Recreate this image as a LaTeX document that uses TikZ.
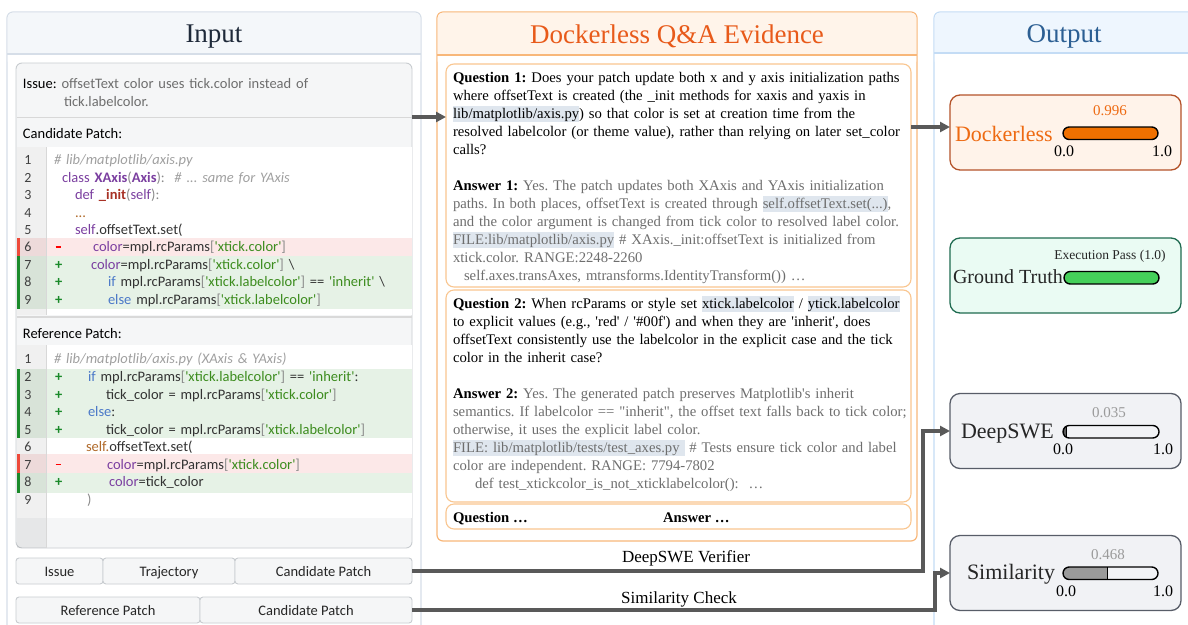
\documentclass[tikz,border=0pt]{standalone}
\usepackage{fontspec}
\usetikzlibrary{arrows.meta}
\newfontfamily\qafont{Liberation Serif}
\newfontfamily\codefont{Carlito}
\frenchspacing
\definecolor{inborder}{HTML}{D6DEE8}
\definecolor{inhead}{HTML}{F4F7FA}
\definecolor{intitle}{HTML}{1F2A3A}
\definecolor{boxborder}{HTML}{C8CCD0}
\definecolor{boxfill}{HTML}{F5F6F7}
\definecolor{redband}{HTML}{FCE8E8}
\definecolor{redbar}{HTML}{EE4A3A}
\definecolor{greenband}{HTML}{E6F2E6}
\definecolor{greenbar}{HTML}{1A8A2A}
\definecolor{kwpurple}{HTML}{7B3FA0}
\definecolor{kwblue}{HTML}{4A78C8}
\definecolor{strgreen}{HTML}{3C8C1E}
\definecolor{cmtgray}{HTML}{A0A0A0}
\definecolor{pungray}{HTML}{8A8A8A}
\definecolor{fnred}{HTML}{A83226}
\definecolor{selfbrown}{HTML}{B06A2A}
\definecolor{codetext}{HTML}{333333}
\definecolor{evborder}{HTML}{F8B77A}
\definecolor{evhead}{HTML}{FFF4EA}
\definecolor{evtitle}{HTML}{E85A1A}
\definecolor{qborder}{HTML}{F9C690}
\definecolor{ansgray}{HTML}{6E6E6E}
\definecolor{hlcol}{HTML}{DFE6EE}
\definecolor{outborder}{HTML}{C4DCF5}
\definecolor{outhead}{HTML}{EEF6FE}
\definecolor{outtitle}{HTML}{2C5F93}
\definecolor{dockfill}{HTML}{FFF3EA}
\definecolor{dockborder}{HTML}{B4532A}
\definecolor{dockorange}{HTML}{EE6A12}
\definecolor{dockbar}{HTML}{F07000}
\definecolor{gtfill}{HTML}{EAFBF3}
\definecolor{gtborder}{HTML}{1F6B50}
\definecolor{gtgreen}{HTML}{45D05A}
\definecolor{grayfill}{HTML}{F1F2F5}
\definecolor{grayborder}{HTML}{585D68}
\definecolor{arrowgray}{HTML}{595959}
\definecolor{valgray}{HTML}{9A9A9A}
\definecolor{deepbar}{HTML}{5A5A5A}
\definecolor{simbar}{HTML}{9A9A9A}
\definecolor{lightsep}{HTML}{D8D8D8}

\newcommand\hlt[1]{\leavevmode\setbox0=\hbox{#1}\rlap{\textcolor{hlcol}{\rule[-0.25em]{\wd0}{1.07em}}}\box0\relax}
\newcommand\ckw[1]{\textcolor{kwpurple}{#1}}
\newcommand\ckb[1]{\textcolor{kwblue}{#1}}
\newcommand\cstr[1]{\textcolor{strgreen}{\textquotesingle#1\textquotesingle}}
\newcommand\cpun[1]{\textcolor{pungray}{#1}}
\newcommand\ccmt[1]{\textcolor{cmtgray}{\itshape #1}}
\newcommand\cind[1]{\hspace*{#1pt}}
\newcommand\cadd{\makebox[0pt][l]{\hspace*{1pt}\textcolor{greenbar}{\textbf{+}}}}
\newcommand\cdel{\makebox[0pt][l]{\hspace*{1.5pt}\textcolor{red}{\rule[0.3em]{5pt}{1.4pt}}}}
\newcommand\qs{\textquotesingle}
\newcommand\qd{\textquotedbl}

\newcommand\scorebar[5]{%
  \begin{scope}
    \clip[rounded corners=6.25pt] (#1,#2) rectangle ++(#3,12.5);
    \fill[#5] (#1,#2) rectangle ++({#3*#4},12.5);
    \draw[line width=1.1pt] ({#1+#3*#4},#2) -- ++(0,12.5);
  \end{scope}
  \draw[line width=1.4pt, rounded corners=6.25pt] (#1,#2) rectangle ++(#3,12.5);
}

\begin{document}
\begin{tikzpicture}[x=1pt,y=-1pt,
  every node/.style={inner sep=0pt, outer sep=0pt},
  panel/.style={line width=1.2pt, fill=white, rounded corners=6pt},
  codebox/.style={draw=boxborder, line width=0.9pt, fill=boxfill, rounded corners=6pt},
  qbox/.style={draw=qborder, line width=1.1pt, fill=white, rounded corners=8pt, minimum width=465pt},
  cell/.style={draw=boxborder, line width=0.9pt, fill=boxfill, rounded corners=3pt, minimum height=26pt, text height=12pt, text depth=2pt, font=\codefont\fontsize{14.5}{16}\selectfont, text=black!85},
  outbox/.style={line width=1.3pt, rounded corners=10pt, minimum width=231pt, minimum height=75pt},
  paneltitle/.style={anchor=base, font=\qafont\fontsize{27}{30}\selectfont},
  codetxt/.style={anchor=north west, text width=380pt, align=left, text=codetext},
  lnum/.style={anchor=north, text width=24pt, align=center, text=black!75},
  qa/.style={anchor=north west, text width=520pt, align=left, font=\qafont\fontsize{14.7}{18}\selectfont},
  arr/.style={draw=arrowgray, line width=3.5pt, -{Triangle[length=10pt,width=10pt]}},
  lbl/.style={font=\qafont\fontsize{17}{20}\selectfont, anchor=base},
  big/.style={anchor=base west, font=\qafont\fontsize{22}{24}\selectfont},
  val/.style={anchor=base, font=\qafont\fontsize{15}{17}\selectfont},
  tick/.style={anchor=base, font=\qafont\fontsize{16}{18}\selectfont}
]
\useasboundingbox (0,0) rectangle (1188,624);
\clip (0,0) rectangle (1188,624);
\fill[white] (0,0) rectangle (1188,624);

% ---------------- Input panel ----------------
\node[panel, draw=inborder, minimum width=414pt, minimum height=648pt] (inpanel) at (214,336) {};
\fill[inhead, rounded corners=5pt] (7.6,12.6) rectangle (420.4,66);
\fill[white] (7.6,54) rectangle (420.4,67);
\draw[inborder, line width=1.2pt] (7,54) -- (421,54);
\node[paneltitle, text=intitle] (intitle) at (214,42) {Input};

\node[codebox, minimum width=396pt, minimum height=485pt] (inbox) at (214,305.5) {};
\draw[lightsep, line width=0.8pt] (16.5,117) -- (411.5,117);
% candidate code area
\fill[white] (16.5,147) rectangle (411.5,315);
\fill[redband] (16.5,238) rectangle (411.5,256);
\fill[greenband] (16.5,256) rectangle (411.5,309);
\fill[black, opacity=0.06] (16.5,147) rectangle (46,315);
\draw[lightsep, line width=0.8pt] (46,147) -- (46,315);
\fill[redbar] (16.5,238) rectangle (20,256);
\fill[greenbar] (16.5,256) rectangle (20,309);
\draw[black!15, line width=2pt] (16.5,316.5) -- (411.5,316.5);
% reference code area
\fill[white] (16.5,345) rectangle (411.5,518);
\fill[greenband] (16.5,369) rectangle (411.5,438);
\fill[redband] (16.5,454) rectangle (411.5,473);
\fill[greenband] (16.5,473) rectangle (411.5,493);
\fill[black, opacity=0.06] (16.5,345) rectangle (46,547.5);
\draw[lightsep, line width=0.8pt] (46,345) -- (46,547.5);
\fill[greenbar] (16.5,369) rectangle (20,438);
\fill[redbar] (16.5,454) rectangle (20,473);
\fill[greenbar] (16.5,473) rectangle (20,493);

\node[anchor=north west, text width=380pt, align=left, font=\codefont\fontsize{14.5}{18}\selectfont] (issuetxt) at (23,75.4)
  {\strut Issue: \textcolor{ansgray}{offsetText color uses tick.color instead of}\\
   \hspace*{41pt}\textcolor{ansgray}{tick.labelcolor.}};
\node[anchor=base west, font=\codefont\fontsize{14.5}{18}\selectfont] (candhdr) at (23,138) {Candidate Patch:};
\node[anchor=base west, font=\codefont\fontsize{14.5}{18}\selectfont] (refhdr) at (23,338) {Reference Patch:};

\node[lnum, font=\codefont\fontsize{14}{17.4}\selectfont] (lnc) at (28,152.8)
  {\strut 1\\2\\3\\4\\5\\6\\7\\8\\9};
\node[codetxt, font=\codefont\fontsize{14.5}{17.4}\selectfont] (codec) at (54,152.8)
  {\strut\ccmt{\# lib/matplotlib/axis.py}\\
   \cind{8}\ckw{class} \ckw{\textbf{XAxis}}\cpun{(}\ckw{\textbf{Axis}}\cpun{):}\ \ \ccmt{\# ... same for YAxis}\\
   \cind{21}\ckw{def} \textcolor{fnred}{\textbf{\_init}}\cpun{(}\ckw{self}\cpun{):}\\
   \cind{21}\textcolor{selfbrown}{...}\\
   \cind{21}\ckw{self}.offsetText.set(\\
   \cdel\cind{39}\ckw{color}=mpl.rcParams\cpun{[}\cstr{xtick.color}\cpun{]}\\
   \cadd\cind{37}\ckw{color}=mpl.rcParams\cpun{[}\cstr{xtick.color}\cpun{]} \textbackslash\\
   \cadd\cind{54}\ckb{if} mpl.rcParams\cpun{[}\cstr{xtick.labelcolor}\cpun{]} == \cstr{inherit} \textbackslash\\
   \cadd\cind{54}\ckb{else} mpl.rcParams\cpun{[}\cstr{xtick.labelcolor}\cpun{]}};

\node[lnum, font=\codefont\fontsize{14}{17.55}\selectfont] (lnr) at (28,351.7)
  {\strut 1\\2\\3\\4\\5\\6\\7\\8\\9};
\node[codetxt, font=\codefont\fontsize{14.5}{17.55}\selectfont] (coder) at (54,351.7)
  {\strut\ccmt{\# lib/matplotlib/axis.py (XAxis \& YAxis)}\\
   \cadd\cind{34}\ckb{if} mpl.rcParams\cpun{[}\cstr{xtick.labelcolor}\cpun{]} == \cstr{inherit}:\\
   \cadd\cind{52}tick\_color = mpl.rcParams\cpun{[}\cstr{xtick.color}\cpun{]}\\
   \cadd\cind{34}\ckb{else}:\\
   \cadd\cind{52}tick\_color = mpl.rcParams\cpun{[}\cstr{xtick.labelcolor}\cpun{]}\\
   \cind{32}\textcolor{selfbrown}{self.}offsetText.set(\\
   \cdel\cind{53}\ckw{color}=mpl.rcParams\cpun{[}\cstr{xtick.color}\cpun{]}\\
   \cadd\cind{55}\ckw{color}=tick\_color\\
   \cind{33}\cpun{)}};

\node[cell, minimum width=87pt] (cissue) at (59.5,571) {Issue};
\node[cell, minimum width=132pt] (ctraj) at (169,571) {Trajectory};
\node[cell, minimum width=177pt] (ccand1) at (323.5,571) {Candidate Patch};
\node[cell, minimum width=184pt] (cref) at (108,610) {Reference Patch};
\node[cell, minimum width=212pt] (ccand2) at (306,610) {Candidate Patch};

% ---------------- Evidence panel ----------------
\node[panel, draw=evborder, minimum width=480pt, minimum height=529pt] (evpanel) at (677,276.5) {};
\fill[evhead, rounded corners=5pt] (437.6,12.6) rectangle (916.4,66);
\fill[white] (437.6,55) rectangle (916.4,67);
\draw[evborder, line width=1.2pt] (437,55) -- (917,55);
\node[paneltitle, text=evtitle] (evtitlenode) at (677,43) {Dockerless Q\&A Evidence};

\node[qbox, minimum height=223pt] (q1box) at (678.5,175.5) {};
\node[qbox, minimum height=212pt] (q2box) at (678.5,396) {};
\node[qbox, minimum height=25pt] (q3box) at (678.5,516.5) {};

\node[qa] (q1text) at (453,69.4)
  {\strut\textbf{Question 1:} Does your patch update both x and y axis initialization paths\\
   where offsetText is created (the \_init methods for xaxis and yaxis in\\
   \hlt{lib/matplotlib/axis.py}) so that color is set at creation time from the\\
   resolved labelcolor (or theme value), rather than relying on later set\_color\\
   calls?\\[18pt]
   {\color{ansgray}\textcolor{black}{\textbf{Answer 1:}} Yes. The patch updates both XAxis and YAxis initialization\\
   paths. In both places, offsetText is created through \hlt{self.offsetText.set(...)},\\
   and the color argument is changed from tick color to resolved label color.\\
   \hlt{FILE:lib/matplotlib/axis.py} \# XAxis.\_init:offsetText is initialized from\\
   xtick.color. RANGE:2248-2260\\
   \hspace*{11pt}self.axes.transAxes, mtransforms.IdentityTransform()) …}};

\node[qa] (q2text) at (453,295.4)
  {\strut\textbf{Question 2:} When rcParams or style set \hlt{xtick.labelcolor} / \hlt{ytick.labelcolor}\\
   to explicit values (e.g., \qs red\qs{} / \qs\#00f\qs) and when they are \qs inherit\qs, does\\
   offsetText consistently use the labelcolor in the explicit case and the tick\\
   color in the inherit case?\\[18pt]
   {\color{ansgray}\textcolor{black}{\textbf{Answer 2:}} Yes. The generated patch preserves Matplotlib\qs s inherit\\
   semantics. If labelcolor == \qd inherit\qd, the offset text falls back to tick color;\\
   otherwise, it uses the explicit label color.\\
   \hlt{FILE: lib/matplotlib/tests/test\_axes.py }\ \# Tests ensure tick color and label\\
   color are independent. RANGE: 7794-7802\\
   \hspace*{22pt}def test\_xtickcolor\_is\_not\_xticklabelcolor():\ \ …}};

\node[anchor=base west, font=\qafont\fontsize{14.7}{18}\selectfont\bfseries] (q3q) at (453,522) {Question …};
\node[anchor=base west, font=\qafont\fontsize{14.7}{18}\selectfont\bfseries] (q3a) at (663,522) {Answer …};

% ---------------- Output panel ----------------
\node[panel, draw=outborder, minimum width=276pt, minimum height=648pt] (outpanel) at (1072,336) {};
\fill[outhead, rounded corners=5pt] (934.6,12.6) rectangle (1209,66);
\fill[white] (934.6,53) rectangle (1209,67);
\draw[outborder, line width=1.2pt] (934,53) -- (1210,53);
\node[paneltitle, text=outtitle] (outtitlenode) at (1064,42) {Output};

% Dockerless
\node[outbox, draw=dockborder, fill=dockfill] (dock) at (1065.5,132.5) {};
\node[big, text=dockorange] (docklbl) at (955,141) {Dockerless};
\node[val, text=dockorange] (dockval) at (1110,115) {0.996};
\node[tick] (docklo) at (1064,156) {0.0};
\node[tick] (dockhi) at (1162,156) {1.0};
\scorebar{1063}{127}{95}{0.996}{dockbar}

% Ground truth
\node[outbox, draw=gtborder, fill=gtfill] (gt) at (1065.5,275.5) {};
\node[anchor=base, font=\qafont\fontsize{13.5}{15}\selectfont, text=black!85] (gtval) at (1110,259) {Execution Pass (1.0)};
\node[anchor=base west, font=\qafont\fontsize{20}{23}\selectfont, text=black!85] (gtlbl) at (953,283) {Ground Truth};
\scorebar{1064}{271.5}{95}{1}{gtgreen}

% DeepSWE
\node[outbox, draw=grayborder, fill=grayfill] (deep) at (1065.5,431) {};
\node[big, text=black!85] (deeplbl) at (961,438) {DeepSWE};
\node[val, text=valgray] (deepval) at (1109,417) {0.035};
\node[tick] (deeplo) at (1063,454) {0.0};
\node[tick] (deephi) at (1163,454) {1.0};
\scorebar{1063}{425.5}{96}{0.035}{deepbar}

% Similarity
\node[outbox, draw=grayborder, fill=grayfill] (sim) at (1065.5,573) {};
\node[big, text=black!85] (simlbl) at (967,579) {Similarity};
\node[val, text=valgray] (simval) at (1108,559) {0.468};
\node[tick] (simlo) at (1066,596) {0.0};
\node[tick] (simhi) at (1163,596) {1.0};
\scorebar{1063}{567}{95}{0.468}{simbar}

% ---------------- Connectors ----------------
\coordinate (ya) at (0,117);
\coordinate (yb) at (0,127);
\coordinate (va) at (923,0);
\coordinate (vb) at (935,0);
\draw[arr] (inbox.east |- ya) -- (q1box.west |- ya);
\draw[arr] (q1box.east |- yb) -- (dock.west |- yb);
\draw[arr] (ccand1.east) -- (ccand1.east -| va) -- (va |- deep.west) -- (deep.west);
\draw[arr] (ccand2.east) -- (ccand2.east -| vb) -- (vb |- sim.west) -- (sim.west);
\node[lbl] (lbldeep) at (686,562) {DeepSWE Verifier};
\node[lbl] (lblsim) at (679,603) {Similarity Check};
\end{tikzpicture}
\end{document}
